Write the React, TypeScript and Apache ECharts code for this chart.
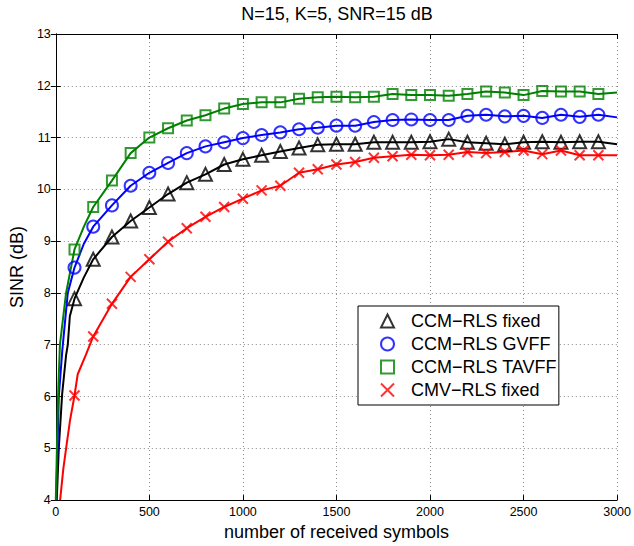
import React, { useEffect, useRef } from "react";
import * as echarts from "echarts";

// x positions of the markers (number of received symbols)
const markerX = [100, 200, 300, 400, 500, 600, 700, 800, 900, 1000, 1100, 1200, 1300, 1400, 1500, 1600, 1700, 1800, 1900, 2000, 2100, 2200, 2300, 2400, 2500, 2600, 2700, 2800, 2900];

// SINR (dB) at the markers
const fixedY = [7.89, 8.65, 9.08, 9.39, 9.65, 9.91, 10.13, 10.29, 10.48, 10.58, 10.66, 10.73, 10.8, 10.86, 10.87, 10.87, 10.91, 10.91, 10.91, 10.92, 10.97, 10.91, 10.89, 10.87, 10.91, 10.92, 10.91, 10.92, 10.92];
const gvffY = [8.49, 9.28, 9.69, 10.07, 10.32, 10.51, 10.7, 10.83, 10.91, 10.99, 11.05, 11.1, 11.16, 11.19, 11.23, 11.23, 11.3, 11.34, 11.35, 11.34, 11.34, 11.42, 11.44, 11.41, 11.42, 11.38, 11.44, 11.4, 11.44];
const tavffY = [8.84, 9.66, 10.17, 10.7, 11.0, 11.18, 11.33, 11.43, 11.56, 11.65, 11.68, 11.68, 11.75, 11.78, 11.79, 11.78, 11.79, 11.84, 11.82, 11.82, 11.81, 11.84, 11.89, 11.87, 11.82, 11.9, 11.89, 11.89, 11.84];
const cmvY = [6.02, 7.16, 7.79, 8.31, 8.65, 8.99, 9.25, 9.47, 9.66, 9.82, 9.98, 10.07, 10.32, 10.39, 10.48, 10.53, 10.61, 10.64, 10.67, 10.66, 10.67, 10.72, 10.7, 10.72, 10.75, 10.68, 10.75, 10.66, 10.66];

// extra points of the continuous curves (start-up region and end)
const fixedExtraX = [5, 16, 34, 55, 64, 75, 150, 3000];
const fixedExtraY = [4.0, 5.0, 6.05, 6.8, 7.0, 7.55, 8.3, 10.87];
const gvffExtraX = [2, 16, 35, 64, 150, 3000];
const gvffExtraY = [4.0, 6.0, 6.9, 8.0, 8.95, 11.39];
const tavffExtraX = [0, 12, 22, 55, 150, 3000];
const tavffExtraY = [4.0, 6.0, 7.0, 8.0, 9.28, 11.87];
const cmvExtraX = [23, 40, 55, 76, 117, 160, 3000];
const cmvExtraY = [4.0, 4.6, 5.0, 5.54, 6.43, 6.8, 10.66];

const xTicks = { min: 0, max: 3000, interval: 500 };
const yTicks = { min: 4, max: 13, interval: 1 };

const names = ["CCM\u2212RLS fixed", "CCM\u2212RLS GVFF", "CCM\u2212RLS TAVFF", "CMV\u2212RLS fixed"];

const FONT = "'Liberation Sans', Arial, Helvetica, sans-serif";

function curve(ex: number[], ey: number[], my: number[]) {
  const pts: number[][] = ex.map((x, i) => [x, ey[i]]).concat(markerX.map((x, i) => [x, my[i]]));
  pts.sort((a, b) => a[0] - b[0]);
  return pts;
}

export default function App() {
  const ref = useRef<HTMLDivElement>(null);
  useEffect(() => {
    if (!ref.current) return;
    const chart = echarts.init(ref.current, undefined, { renderer: "svg" });

    const defs = [
      { name: names[0], color: "#000000", my: fixedY, ex: fixedExtraX, ey: fixedExtraY, symbol: "triangle", size: 13 },
      { name: names[1], color: "#0000ff", my: gvffY, ex: gvffExtraX, ey: gvffExtraY, symbol: "circle", size: 12 },
      { name: names[2], color: "#008000", my: tavffY, ex: tavffExtraX, ey: tavffExtraY, symbol: "rect", size: 10 },
      { name: names[3], color: "#ff0000", my: cmvY, ex: cmvExtraX, ey: cmvExtraY, symbol: "path://M0 0L10 10M10 0L0 10", size: 10 },
    ];

    const series: any[] = [];
    defs.forEach((d, k) => {
      series.push({
        name: "_line" + k,
        type: "line",
        data: curve(d.ex, d.ey, d.my),
        showSymbol: false,
        symbol: "none",
        lineStyle: { color: d.color, width: 2 },
        itemStyle: { color: d.color },
        clip: true,
        z: 2,
      });
    });
    defs.forEach((d) => {
      series.push({
        name: d.name,
        type: "scatter",
        data: markerX.map((x, i) => [x, d.my[i]]),
        symbol: d.symbol,
        symbolSize: d.size,
        symbolKeepAspect: true,
        itemStyle: { color: "rgba(0,0,0,0)", borderColor: d.color, borderWidth: 2 },
        z: 3,
      });
    });

    const axisLine = { show: true, lineStyle: { color: "#000", width: 1 } };
    const tick = { show: true, inside: true, length: 5, lineStyle: { color: "#000" } };
    const split = { show: true, lineStyle: { color: "#8a8a8a", type: [1, 3], width: 1 } };
    const plain = (v: number) => String(v);

    chart.setOption({
      animation: false,
      backgroundColor: "#ffffff",
      textStyle: { fontFamily: FONT },
      title: {
        text: "N=15, K=5, SNR=15 dB",
        left: 337,
        textAlign: "center",
        top: 5,
        padding: 0,
        textStyle: { fontFamily: FONT, fontSize: 18, fontWeight: "normal", color: "#000" },
      },
      grid: { left: 55, top: 34, right: 14, bottom: 38, containLabel: false },
      xAxis: [
        {
          type: "value",
          ...xTicks,
          position: "bottom",
          name: "number of received symbols",
          nameLocation: "middle",
          nameGap: 20,
          nameTextStyle: { fontFamily: FONT, fontSize: 18, color: "#000" },
          axisLine,
          axisTick: tick,
          axisLabel: { fontFamily: FONT, fontSize: 12.5, color: "#000", margin: 5, formatter: plain },
          splitLine: split,
        },
        {
          type: "value",
          ...xTicks,
          position: "top",
          axisLine,
          axisTick: tick,
          axisLabel: { show: false },
          splitLine: { show: false },
        },
      ],
      yAxis: [
        {
          type: "value",
          ...yTicks,
          position: "left",
          name: "SINR (dB)",
          nameLocation: "middle",
          nameGap: 23,
          nameTextStyle: { fontFamily: FONT, fontSize: 18, color: "#000" },
          axisLine,
          axisTick: tick,
          axisLabel: { fontFamily: FONT, fontSize: 12.5, color: "#000", margin: 5, formatter: plain },
          splitLine: split,
        },
        {
          type: "value",
          ...yTicks,
          position: "right",
          axisLine,
          axisTick: tick,
          axisLabel: { show: false },
          splitLine: { show: false },
        },
      ],
      legend: {
        data: names,
        orient: "vertical",
        left: 358,
        top: 306,
        padding: [6, 2, 6, 22],
        itemGap: 5,
        itemWidth: 13,
        itemHeight: 13,
        symbolKeepAspect: true,
        borderColor: "#000",
        borderWidth: 1,
        borderRadius: 0,
        backgroundColor: "#ffffff",
        selectedMode: false,
        z: 10,
        itemStyle: { borderWidth: 2 },
        textStyle: { fontFamily: FONT, fontSize: 18, color: "#000", padding: [0, 0, 0, 12] },
      },
      series,
    });
    return () => chart.dispose();
  }, []);
  return <div ref={ref} style={{ position: "absolute", left: 0, top: 0, width: 634, height: 546 }} />;
}
